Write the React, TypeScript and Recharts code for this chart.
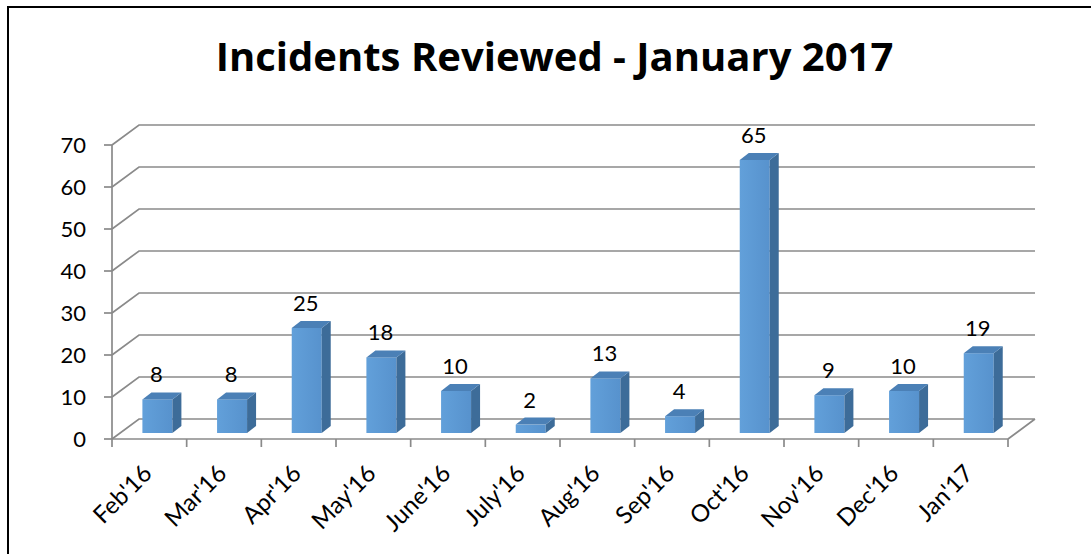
import React from "react";
import { BarChart, Bar, XAxis, YAxis, CartesianGrid, LabelList } from "recharts";

const months = ["Feb'16", "Mar'16", "Apr'16", "May'16", "June'16", "July'16", "Aug'16", "Sep'16", "Oct'16", "Nov'16", "Dec'16", "Jan'17"];
const incidents = [8, 8, 25, 18, 10, 2, 13, 4, 65, 9, 10, 19];
const yTicks = [0, 10, 20, 30, 40, 50, 60, 70];

const data = months.map((m, i) => ({ month: m, incidents: incidents[i] }));

// chart geometry (page coordinates, body margin removed)
const W = 1091;
const H = 554;
const PLOT_BOTTOM = 439;
const XH = 90;
// depth of the 3D floor / back wall
const DX = 27;
const DY = -20;
// bars sit a bit behind the front edge
const BAR_OX = 8;
const BAR_OY = -6;
const BAR_DX = 9;
const BAR_DY = -7;

const FONT = "Lato, 'Open Sans', sans-serif";
const GRID = "#8a8a8a";

const GridLine = (props: any) => {
  const { x1, y1, x2 } = props;
  const isFloor = Math.abs(y1 - PLOT_BOTTOM) < 1;
  let d = `M${x1},${y1} L${x1 + DX},${y1 + DY} L${x2 + DX},${y1 + DY}`;
  if (isFloor) d += ` M${x2},${y1} L${x2 + DX},${y1 + DY}`;
  return <path key={`g-${y1}`} d={d} stroke={GRID} strokeWidth={1.7} fill="none" />;
};

const Bar3D = (props: any) => {
  const { x, y, width, height } = props;
  if (width == null || height == null) return null;
  const fx = x + BAR_OX;
  const fy = y + BAR_OY;
  const top = `M${fx},${fy} L${fx + BAR_DX},${fy + BAR_DY} L${fx + width + BAR_DX},${fy + BAR_DY} L${fx + width},${fy} Z`;
  const side = `M${fx + width},${fy} L${fx + width + BAR_DX},${fy + BAR_DY} L${fx + width + BAR_DX},${fy + height + BAR_DY} L${fx + width},${fy + height} Z`;
  return (
    <g>
      <rect x={fx} y={fy} width={width} height={height} fill="url(#barFront)" />
      <path d={side} fill="#3d6c99" />
      <path d={top} fill="#4b80b6" />
    </g>
  );
};

const ValueLabel = (props: any) => {
  const { x, y, width, value } = props;
  return (
    <text
      x={x + BAR_OX + width / 2 - 1}
      y={y + BAR_OY - 17}
      textAnchor="middle"
      fontFamily={FONT}
      fontSize={22}
      fill="#000"
    >
      {value}
    </text>
  );
};

const MonthTick = (props: any) => {
  const { x, payload, index } = props;
  const half = payload && payload.offset ? payload.offset : 37.3;
  const ax = x + 4;
  const ay = PLOT_BOTTOM + 36;
  return (
    <g>
      <line x1={x - half} y1={PLOT_BOTTOM} x2={x - half} y2={PLOT_BOTTOM + 8} stroke={GRID} strokeWidth={1.7} />
      {index === months.length - 1 && (
        <line x1={x + half} y1={PLOT_BOTTOM} x2={x + half} y2={PLOT_BOTTOM + 8} stroke={GRID} strokeWidth={1.7} />
      )}
      <text
        x={ax}
        y={ay}
        textAnchor="end"
        transform={`rotate(-45, ${ax}, ${ay})`}
        fontFamily={FONT}
        fontSize={24}
        fill="#000"
      >
        {payload.value}
      </text>
    </g>
  );
};

export default function App() {
  return (
    <div style={{ position: "relative", width: W, height: H, background: "#fff", overflow: "hidden" }}>
      <style>{"body{margin:0;overflow:hidden}"}</style>
      <BarChart
        width={W}
        height={H}
        data={data}
        margin={{ top: 145, right: 83, bottom: H - PLOT_BOTTOM - XH, left: 0 }}
        barCategoryGap="30%"
      >
        <defs>
          <linearGradient id="barFront" x1="0" y1="0" x2="1" y2="0">
            <stop offset="0%" stopColor="#62a0da" />
            <stop offset="100%" stopColor="#5792cd" />
          </linearGradient>
        </defs>
        <CartesianGrid vertical={false} horizontal={GridLine} />
        <XAxis
          dataKey="month"
          height={XH}
          interval={0}
          axisLine={{ stroke: GRID, strokeWidth: 1.7 }}
          tickLine={false}
          tick={MonthTick}
        />
        <YAxis
          width={112}
          domain={[0, 70]}
          ticks={yTicks}
          interval={0}
          axisLine={{ stroke: GRID, strokeWidth: 1.7 }}
          tickLine={{ stroke: GRID, strokeWidth: 1.7 }}
          tickSize={8}
          tickMargin={18}
          tick={{ fontFamily: FONT, fontSize: 22, fill: "#000" }}
        />
        <Bar dataKey="incidents" shape={Bar3D} isAnimationActive={false}>
          <LabelList dataKey="incidents" content={ValueLabel} />
        </Bar>
      </BarChart>
      <svg
        width={W}
        height={H}
        style={{ position: "absolute", left: 0, top: 0, pointerEvents: "none" }}
      >
        <text
          x={554.5}
          y={71}
          textAnchor="middle"
          fontFamily="'Open Sans', Lato, sans-serif"
          fontWeight={700}
          fontSize={40}
          fill="#000"
        >
          Incidents Reviewed - January 2017
        </text>
        <line x1={8} y1={7} x2={W} y2={7} stroke="#000" strokeWidth={2} />
        <line x1={8} y1={6} x2={8} y2={H} stroke="#000" strokeWidth={2} />
      </svg>
    </div>
  );
}
